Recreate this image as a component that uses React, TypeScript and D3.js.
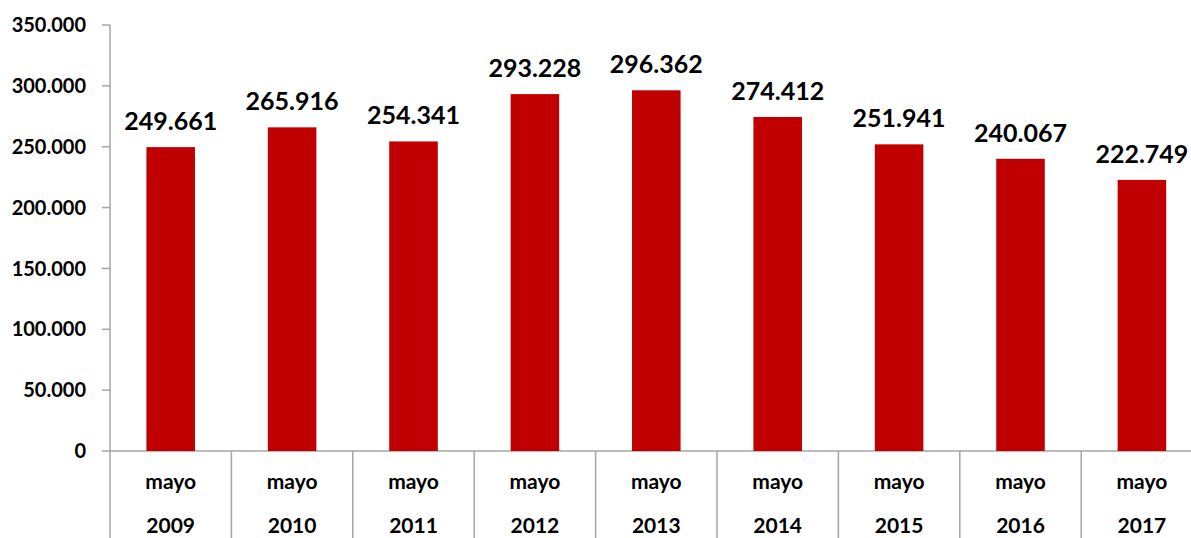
import React from "react";
import * as d3 from "d3";

const categories = ["2009", "2010", "2011", "2012", "2013", "2014", "2015", "2016", "2017"];
const monthLabel = "mayo";
const values = [249661, 265916, 254341, 293228, 296362, 274412, 251941, 240067, 222749];
const yTicks = [0, 50000, 100000, 150000, 200000, 250000, 300000, 350000];

const W = 1191;
const H = 538;
const x0 = 110;
const band = 121.4;
const yTop = 25;
const yZero = 451;

const fmt = (v: number) => {
  if (v === 0) return "0";
  const s = Math.round(v).toString();
  return s.replace(/\B(?=(\d{3})+(?!\d))/g, ".");
};

export default function App() {
  const x = d3
    .scaleBand<string>()
    .domain(categories)
    .range([x0, x0 + band * categories.length])
    .paddingInner(0.6)
    .paddingOuter(0.3);
  const y = d3.scaleLinear().domain([0, 350000]).range([yZero, yTop]);
  const font = "Lato, 'Open Sans', sans-serif";
  const axisColor = "#A6A6A6";
  const bw = x.bandwidth();
  return (
    <svg width={W} height={H} style={{ position: "absolute", left: 0, top: 0, background: "#fff" }} fontFamily={font}>
      <line x1={x0} x2={x0} y1={yTop} y2={H} stroke={axisColor} strokeWidth={1.5} />
      {yTicks.map((t) => (
        <g key={t}>
          <line x1={x0 - 8} x2={x0} y1={y(t)} y2={y(t)} stroke={axisColor} strokeWidth={1.5} />
          <text x={86} y={y(t)} dy="0.36em" textAnchor="end" fontSize={20} fontWeight="bold" fill="#000">
            {fmt(t)}
          </text>
        </g>
      ))}
      <line x1={x0} x2={W} y1={yZero} y2={yZero} stroke={axisColor} strokeWidth={1.5} />
      {categories.map((c, i) => (
        <line key={"sep" + c} x1={x0 + band * (i + 1)} x2={x0 + band * (i + 1)} y1={yZero} y2={H} stroke={axisColor} strokeWidth={1.5} />
      ))}
      {categories.map((c, i) => (
        <rect key={"bar" + c} x={x(c)!} y={y(values[i])} width={bw} height={yZero - y(values[i])} fill="#C00000" />
      ))}
      {categories.map((c, i) => (
        <text key={"val" + c} x={x(c)! + bw / 2} y={y(values[i]) - 17} textAnchor="middle" fontSize={25} fontWeight="bold" fill="#000">
          {fmt(values[i])}
        </text>
      ))}
      {categories.map((c, i) => (
        <g key={"cat" + c}>
          <text x={x0 + band * (i + 0.5)} y={489} textAnchor="middle" fontSize={21} fontWeight="bold" fill="#000">
            {monthLabel}
          </text>
          <text x={x0 + band * (i + 0.5)} y={533} textAnchor="middle" fontSize={21} fontWeight="bold" fill="#000">
            {c}
          </text>
        </g>
      ))}
    </svg>
  );
}
